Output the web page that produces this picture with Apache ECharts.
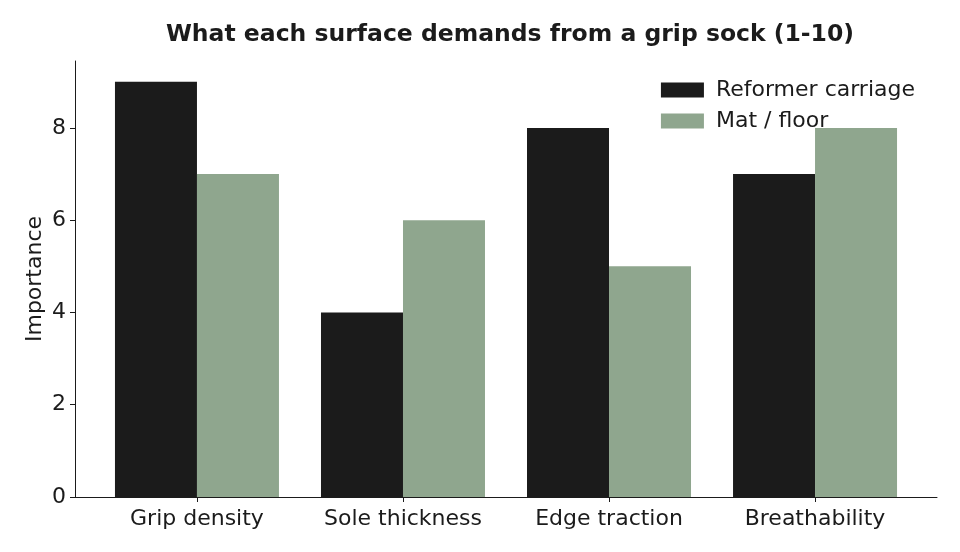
<!DOCTYPE html>
<html>
<head>
<meta charset="utf-8">
<script src="https://cdn.jsdelivr.net/npm/echarts@6/dist/echarts.min.js"></script>
<style>
  html, body { margin: 0; padding: 0; background: #fff; }
  #chart { width: 960px; height: 552px; }
</style>
</head>
<body>
<div id="chart"></div>
<script>
const categories = ['Grip density', 'Sole thickness', 'Edge traction', 'Breathability']
const reformer = [9, 4, 8, 7]
const mat = [7, 6, 5, 8]
const yTicks = [0, 2, 4, 6, 8]
const xTicks = [0, 1, 2, 3]

const font = 'DejaVu Sans'
const ink = '#1b1b1b'
const chart = echarts.init(document.getElementById('chart'))

// value x axis so the bars keep matplotlib's side margins
const toPoints = (arr) => arr.map((v, i) => [i, v])

const option = {
  animation: false,
  textStyle: { fontFamily: font },
  title: {
    text: 'What each surface demands from a grip sock (1-10)',
    left: 505,
    textAlign: 'center',
    top: 18,
    textStyle: { fontFamily: font, fontSize: 23.5, fontWeight: 'bold', color: ink }
  },
  legend: {
    data: ['Reformer carriage', 'Mat / floor'],
    orient: 'vertical',
    right: 40,
    top: 74,
    icon: 'rect',
    itemWidth: 43,
    itemHeight: 15,
    itemGap: 9,
    textStyle: { fontFamily: font, fontSize: 22, lineHeight: 22, color: ink, padding: [0, 0, 0, 7] }
  },
  grid: { left: 75, right: 23, top: 61, bottom: 55 },
  xAxis: {
    type: 'value',
    min: -0.592,
    max: 3.592,
    splitLine: { show: false },
    axisLine: { show: true, onZero: false, lineStyle: { color: ink, width: 1 } },
    axisTick: { show: true, length: 5, customValues: xTicks, lineStyle: { color: ink } },
    axisLabel: {
      fontFamily: font, fontSize: 22, color: ink, margin: 11,
      customValues: xTicks,
      formatter: (v) => categories[Math.round(v)]
    }
  },
  yAxis: {
    type: 'value',
    min: 0,
    max: 9.45,
    interval: 2,
    name: 'Importance',
    nameLocation: 'middle',
    nameGap: 29,
    nameMoveOverlap: false,
    nameTextStyle: { fontFamily: font, fontSize: 22, color: ink },
    splitLine: { show: false },
    axisLine: { show: true, onZero: false, lineStyle: { color: ink, width: 1 } },
    axisTick: { show: true, length: 5, customValues: yTicks, lineStyle: { color: ink } },
    axisLabel: { fontFamily: font, fontSize: 22, color: ink, margin: 9, customValues: yTicks }
  },
  series: [
    {
      name: 'Reformer carriage',
      type: 'bar',
      data: toPoints(reformer),
      barWidth: 82,
      barGap: '0%',
      itemStyle: { color: ink }
    },
    {
      name: 'Mat / floor',
      type: 'bar',
      data: toPoints(mat),
      barWidth: 82,
      barGap: '0%',
      itemStyle: { color: '#8fa68e' }
    }
  ]
}

chart.setOption(option)
</script>
</body>
</html>
